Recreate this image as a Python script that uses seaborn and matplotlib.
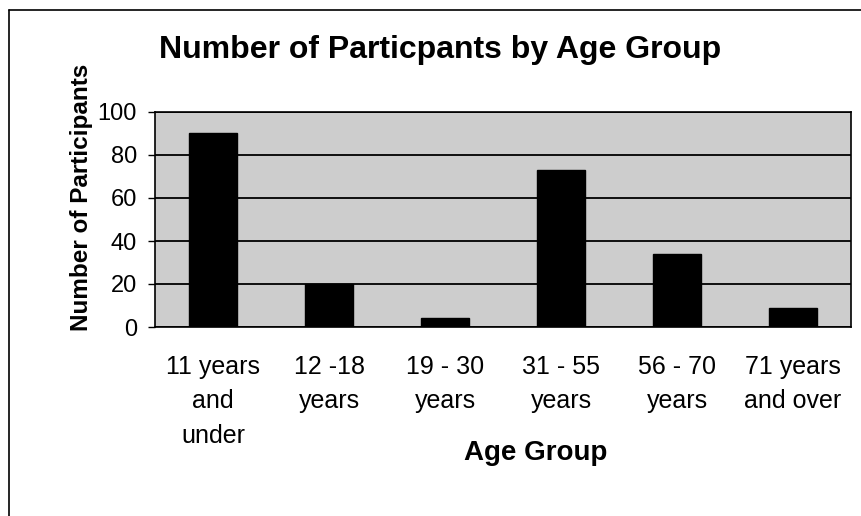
import matplotlib
matplotlib.use('Agg')
import matplotlib.pyplot as plt
import seaborn as sns
import pandas as pd
from matplotlib.lines import Line2D

# Data
age_groups = ['11 years\nand\nunder', '12 -18\nyears', '19 - 30\nyears',
              '31 - 55\nyears', '56 - 70\nyears', '71 years\nand over']
participants = [90, 20, 4, 73, 34, 9]

data = pd.DataFrame({'AgeGroup': age_groups, 'Participants': participants})

sns.set_style('white')
plt.rcParams['font.family'] = ['Liberation Sans', 'DejaVu Sans']
plt.rcParams['text.color'] = 'black'
plt.rcParams['xtick.color'] = 'black'
plt.rcParams['ytick.color'] = 'black'

fig = plt.figure(figsize=(8.61, 5.16), dpi=100)
ax = fig.add_axes([155 / 861, 1 - 327 / 516, 696 / 861, 215 / 516])
ax.set_facecolor('#cdcdcd')

sns.barplot(data=data, x='AgeGroup', y='Participants', color='black',
            width=0.42, saturation=1, edgecolor='black', ax=ax, zorder=3)

ax.set_ylim(0, 100)
ax.set_xlim(-0.5, len(age_groups) - 0.5)
ax.set_yticks(range(0, 101, 20))
ax.yaxis.grid(True, color='black', linewidth=1.3, zorder=1)
ax.set_axisbelow(True)

# category labels at centres, tick marks at category boundaries
ax.set_xticks(range(len(age_groups)))
ax.set_xticklabels(age_groups, fontsize=18, linespacing=1.55)
ax.set_xticks([i - 0.5 for i in range(len(age_groups) + 1)], minor=True)
ax.tick_params(axis='x', which='major', length=0, pad=20)
ax.tick_params(axis='x', which='minor', length=5, width=1, direction='out', color='black')
ax.tick_params(axis='y', length=5, width=1, direction='out', color='black', labelsize=17, pad=8)
ax.tick_params(axis='both', bottom=True, left=True)

for s in ax.spines.values():
    s.set_color('black')
    s.set_linewidth(1.2)

ax.set_xlabel('')
ax.set_ylabel('')

fig.text(440 / 861, 1 - 50 / 516, 'Number of Particpants by Age Group',
         ha='center', va='center', fontsize=23, fontweight='bold')
fig.text(82 / 861, 1 - 197 / 516, 'Number of Participants', rotation=90,
         ha='center', va='center', fontsize=17.5, fontweight='bold')
fig.text(536 / 861, 1 - 453 / 516, 'Age Group',
         ha='center', va='center', fontsize=20, fontweight='bold')

# chart area border (top and left edges visible in the scan)
fig.add_artist(Line2D([9 / 861, 1], [1 - 10 / 516, 1 - 10 / 516], color='black', linewidth=1.2))
fig.add_artist(Line2D([9 / 861, 9 / 861], [0, 1 - 10 / 516], color='black', linewidth=1.2))

fig.savefig('out.png', dpi=100, facecolor='white')
